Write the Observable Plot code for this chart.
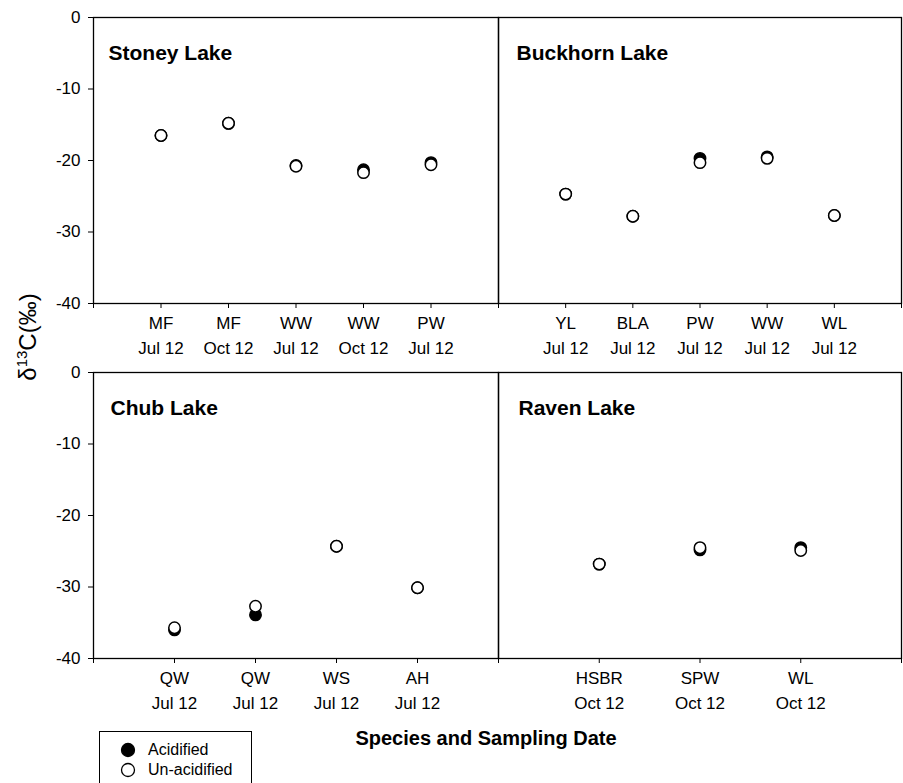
<!DOCTYPE html>
<html><head><meta charset="utf-8">
<script src="https://cdn.jsdelivr.net/npm/d3@7"></script>
<script src="https://cdn.jsdelivr.net/npm/@observablehq/plot@0.6"></script>
<style>
body{margin:0;background:#fff;overflow:hidden;font-family:"Liberation Sans",Arial,sans-serif;}
#root{position:relative;width:903px;height:783px;overflow:hidden;background:#fff;}
.panel{position:absolute;}
.panel svg{overflow:visible;background:transparent;max-width:none !important;}
#ylab{position:absolute;left:28px;top:337px;transform:translate(-50%,-50%) rotate(-90deg);font-size:24px;white-space:nowrap;color:#000;}
#ylab sup{font-size:15px;vertical-align:9px;line-height:0;}
#xlab{position:absolute;left:486px;top:738px;transform:translate(-50%,-50%);font-size:20px;font-weight:bold;white-space:nowrap;color:#000;}
#legend{position:absolute;left:99px;top:731px;width:153px;height:70px;border:1px solid #000;box-sizing:border-box;font-size:16px;color:#000;}
.lg{position:absolute;left:0;display:flex;align-items:center;height:20px;}
.lg svg{margin-left:20px;margin-right:12px;}
</style></head><body><div id="root"></div>
<script>
// Data
const stoneySpecies = ["MF", "MF", "WW", "WW", "PW"];
const stoneyDates = ["Jul 12", "Oct 12", "Jul 12", "Oct 12", "Jul 12"];
const stoneyAcidified = [-16.5, -14.8, -20.7, -21.3, -20.3];
const stoneyUnacidified = [-16.5, -14.8, -20.8, -21.7, -20.6];

const buckhornSpecies = ["YL", "BLA", "PW", "WW", "WL"];
const buckhornDates = ["Jul 12", "Jul 12", "Jul 12", "Jul 12", "Jul 12"];
const buckhornAcidified = [-24.7, -27.8, -19.7, -19.5, -27.7];
const buckhornUnacidified = [-24.7, -27.8, -20.3, -19.7, -27.7];

const chubSpecies = ["QW", "QW", "WS", "AH"];
const chubDates = ["Jul 12", "Jul 12", "Jul 12", "Jul 12"];
const chubAcidified = [-36.0, -33.9, -24.3, -30.1];
const chubUnacidified = [-35.7, -32.7, -24.3, -30.1];

const ravenSpecies = ["HSBR", "SPW", "WL"];
const ravenDates = ["Oct 12", "Oct 12", "Oct 12"];
const ravenAcidified = [-26.8, -24.8, -24.5];
const ravenUnacidified = [-26.8, -24.5, -24.9];

const yTicks = [0, -10, -20, -30, -40];
const legendLabels = ["Acidified", "Un-acidified"];

const root = document.getElementById("root");
const FONT = '"Liberation Sans", Arial, sans-serif';

function panel(title, species, dates, acid, unacid, pos) {
  const n = species.length;
  const rows = species.map((s, i) => ({i: i + 1, acid: acid[i], unacid: unacid[i]}));
  const plotW = pos.plotW, plotH = 286;
  const mL = pos.showY ? 93 : 10, mR = 10, mT = 17, mB = 52;
  const W = mL + plotW + mR, H = mT + plotH + mB;
  const marks = [
    Plot.frame({stroke: "black", strokeWidth: 1.3}),
    Plot.axisX(d3.range(0, n + 2), {
      tickSize: 5, tickPadding: 3, fontSize: 17, lineHeight: 1.47,
      tickFormat: i => (i >= 1 && i <= n) ? species[i - 1] + "\n" + dates[i - 1] : "",
      stroke: "black", fill: "black", label: null
    }),
    Plot.dot(rows, {x: "i", y: "acid", r: 5.7, fill: "black", stroke: "black", strokeWidth: 1.5}),
    Plot.dot(rows, {x: "i", y: "unacid", r: 5.7, fill: "white", stroke: "black", strokeWidth: 1.5}),
    Plot.text([title], {text: d => d, frameAnchor: "top-left", dx: pos.dx, dy: 28, textAnchor: "start", fontSize: 21, fontWeight: "bold", fill: "black"})
  ];
  if (pos.showY) {
    marks.push(Plot.axisY(yTicks, {tickSize: 5, tickPadding: 8, fontSize: 17, tickFormat: d => String(d), stroke: "black", fill: "black", label: null}));
  }
  const chart = Plot.plot({
    width: W, height: H,
    marginLeft: mL, marginRight: mR, marginTop: mT, marginBottom: mB,
    style: {background: "transparent", overflow: "visible", fontFamily: FONT, color: "black", maxWidth: "none"},
    x: {domain: [0, n + 1]},
    y: pos.showY ? {domain: [-40, 0]} : {domain: [-40, 0], axis: null},
    marks
  });
  const div = document.createElement("div");
  div.className = "panel";
  div.style.left = (pos.left - mL) + "px";
  div.style.top = pos.top + "px";
  div.style.width = W + "px";
  div.style.height = H + "px";
  div.appendChild(chart);
  root.appendChild(div);
}

panel("Stoney Lake", stoneySpecies, stoneyDates, stoneyAcidified, stoneyUnacidified, {left: 93, top: 0, plotW: 405, showY: true, dx: 15});
panel("Buckhorn Lake", buckhornSpecies, buckhornDates, buckhornAcidified, buckhornUnacidified, {left: 498, top: 0, plotW: 403, showY: false, dx: 18});
panel("Chub Lake", chubSpecies, chubDates, chubAcidified, chubUnacidified, {left: 93, top: 355, plotW: 405, showY: true, dx: 17});
panel("Raven Lake", ravenSpecies, ravenDates, ravenAcidified, ravenUnacidified, {left: 498, top: 355, plotW: 403, showY: false, dx: 20});

// Axis titles
const ylab = document.createElement("div");
ylab.id = "ylab";
ylab.innerHTML = "δ<sup>13</sup>C(‰)";
root.appendChild(ylab);
const xlab = document.createElement("div");
xlab.id = "xlab";
xlab.textContent = "Species and Sampling Date";
root.appendChild(xlab);

// Legend
const legend = document.createElement("div");
legend.id = "legend";
legendLabels.forEach((lab, k) => {
  const item = document.createElement("div");
  item.className = "lg";
  item.style.top = (8 + k * 19.5) + "px";
  const fill = k === 0 ? "black" : "white";
  item.innerHTML = `<svg width="16" height="16"><circle cx="8" cy="8" r="6.5" fill="${fill}" stroke="black" stroke-width="1.3"/></svg><span>${lab}</span>`;
  legend.appendChild(item);
});
root.appendChild(legend);
</script>
</body></html>
